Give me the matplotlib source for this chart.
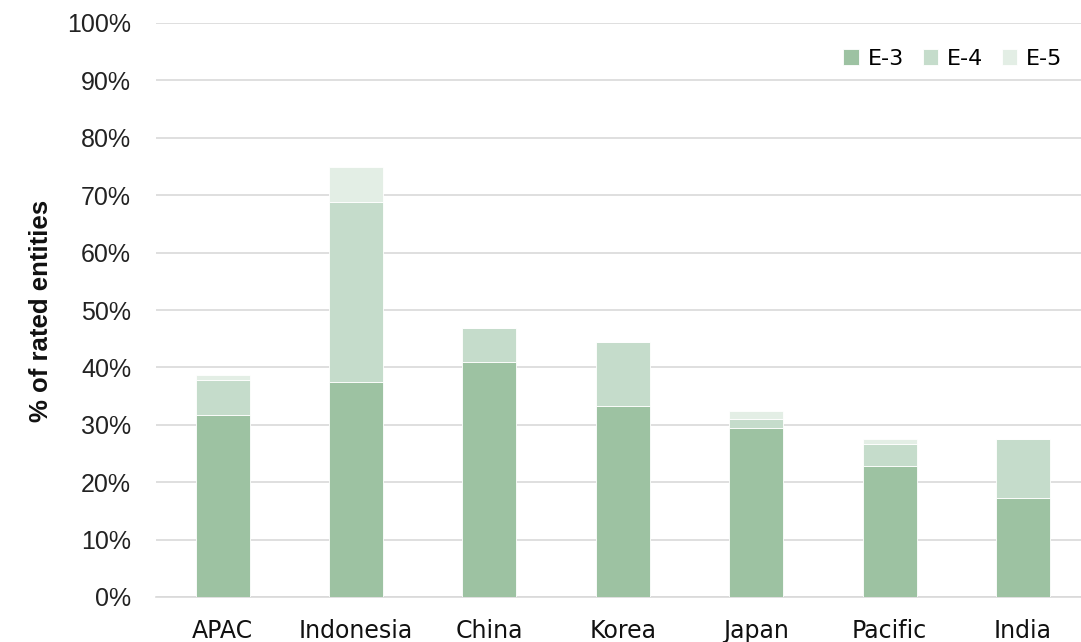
import matplotlib.pyplot as plt
from matplotlib.ticker import PercentFormatter

regions = ["APAC", "Indonesia", "China", "Korea", "Japan", "Pacific", "India"]
e3 = [31.7, 37.5, 41.0, 33.3, 29.4, 22.9, 17.3]
e4 = [6.1, 31.25, 5.9, 11.1, 1.6, 3.8, 10.3]
e5 = [0.9, 6.25, 0.0, 0.0, 1.4, 0.9, 0.0]
series_names = ["E-3", "E-4", "E-5"]
series_colors = ["#9dc2a2", "#c5dccb", "#e3eee5"]

plt.rcParams['font.family'] = ['DejaVu Sans']

W, H = 1081, 642
fig = plt.figure(figsize=(W / 100, H / 100), dpi=100)
ax = fig.add_axes([156 / W, 45 / H, 1 - 156 / W, (597 - 23) / H])

x = list(range(len(regions)))
bottom = [0.0] * len(regions)
for vals, name, col in zip([e3, e4, e5], series_names, series_colors):
    ax.bar(x, vals, width=0.405, bottom=bottom, color=col, label=name,
           edgecolor="white", linewidth=0.6, zorder=3)
    bottom = [b + v for b, v in zip(bottom, vals)]

ax.set_ylim(0, 100)
ax.set_xlim(-0.5, 6.435)
ax.set_yticks(range(0, 101, 10))
ax.yaxis.set_major_formatter(PercentFormatter(100, decimals=0))
ax.set_xticks(x)
ax.set_xticklabels(regions, fontsize=17, color="#111111")
ax.tick_params(axis="y", length=0, pad=18, labelsize=18, labelcolor="#222222")
ax.tick_params(axis="x", length=0, pad=16)
for lbl in ax.get_yticklabels():
    lbl.set_family("Liberation Sans")

ax.grid(axis="y", color="#d9d9d9", linewidth=1.2, zorder=0)
for s in ["top", "right", "left"]:
    ax.spines[s].set_visible(False)
ax.spines["bottom"].set_color("#d9d9d9")
ax.spines["bottom"].set_linewidth(1.2)

fig.text(41 / W, 1 - 311 / H, "% of rated entities", rotation=90,
         ha="center", va="center", fontsize=18.5, fontweight="bold",
         family="Liberation Sans", color="#111111")

leg = ax.legend(loc="upper right", ncol=3, frameon=False, fontsize=16,
                handlelength=0.68, handleheight=0.68, handletextpad=0.4,
                columnspacing=0.85, borderaxespad=0,
                bbox_to_anchor=(1071 / W, 1 - 40 / H),
                bbox_transform=fig.transFigure)

fig.savefig("out.png", dpi=100)
